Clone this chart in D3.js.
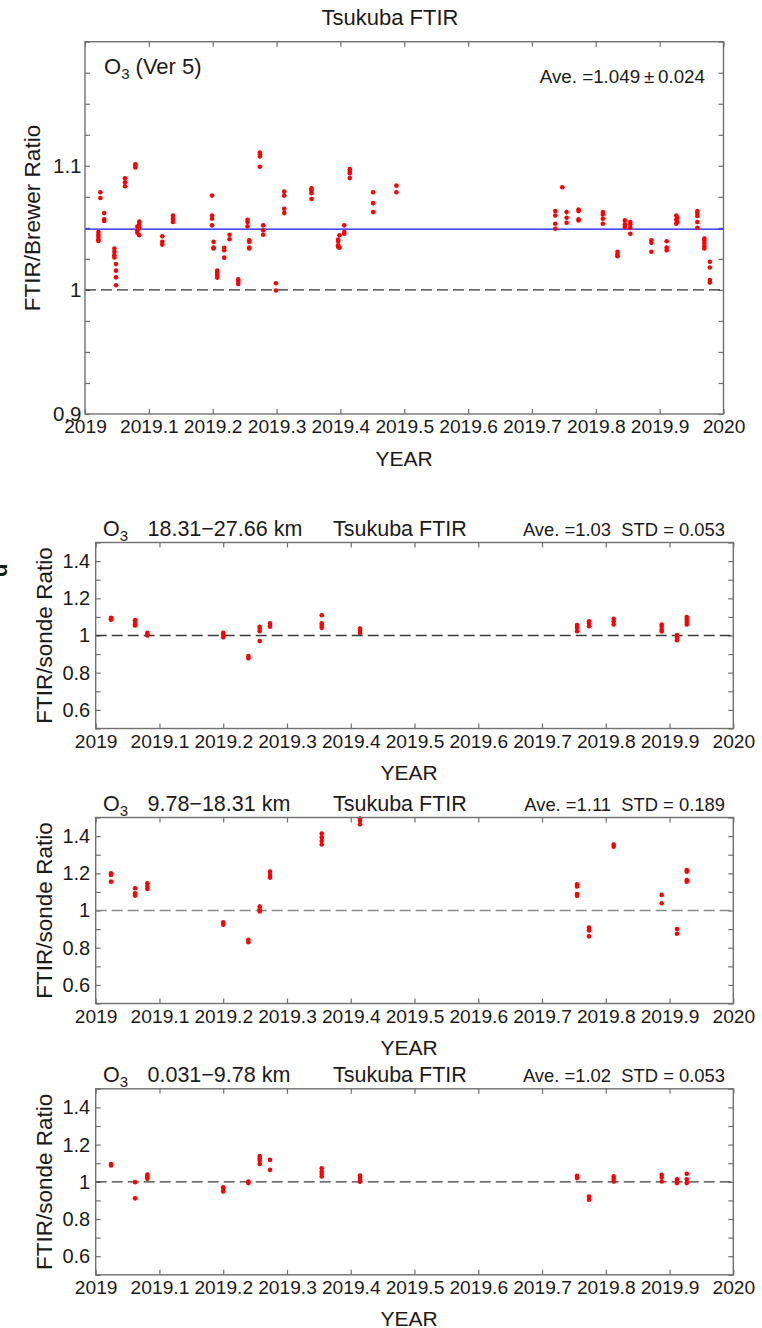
<!DOCTYPE html>
<html>
<head>
<meta charset="utf-8">
<script src="https://cdn.jsdelivr.net/npm/d3@7"></script>
<style>
  body { margin: 0; background: #fff; }
  svg { display: block; }
  text { font-family: "Liberation Sans", Arial, sans-serif; fill: #1a1a1a; }
</style>
</head>
<body>
<svg id="chart" width="762" height="1328"></svg>
<script>
// ---- FTIR / Brewer total-column ratio (2019) ----
const brewerDates = [
  2019.021, 2019.024, 2019.030, 2019.046, 2019.0485, 2019.0626, 2019.0788, 2019.082, 2019.085,
  2019.121, 2019.1377, 2019.199, 2019.2013, 2019.207, 2019.218, 2019.2264, 2019.240,
  2019.2546, 2019.2572, 2019.2739, 2019.279, 2019.299, 2019.312, 2019.3547, 2019.3965,
  2019.3985, 2019.406, 2019.4147, 2019.4512, 2019.4877,
  2019.7365, 2019.7475, 2019.7543, 2019.773, 2019.811, 2019.834, 2019.8455, 2019.854,
  2019.887, 2019.911, 2019.926, 2019.9275, 2019.959, 2019.970, 2019.9786
];
const brewerRatios = [
  [1.0467, 1.0445, 1.0427, 1.0405, 1.0395],
  [1.0787, 1.0741],
  [1.0619, 1.0568, 1.0555],
  [1.0333, 1.0307, 1.0280, 1.0261],
  [1.0208, 1.0155, 1.0101, 1.0037],
  [1.0900, 1.0867, 1.0835],
  [1.1013, 1.1000, 1.0987],
  [1.0460, 1.0480, 1.0510],
  [1.0440, 1.0500, 1.0530, 1.0550],
  [1.0432, 1.0387, 1.0365],
  [1.0600, 1.0573, 1.0547],
  [1.0760, 1.0600, 1.0573, 1.0520],
  [1.0387, 1.0341, 1.0333],
  [1.0155, 1.0139, 1.0120, 1.0099],
  [1.0340, 1.0320, 1.0260],
  [1.0445, 1.0408],
  [1.0085, 1.0067, 1.0048],
  [1.0565, 1.0547, 1.0512],
  [1.0400, 1.0387, 1.0341, 1.0333],
  [1.1107, 1.1093, 1.1075, 1.0992],
  [1.0520, 1.0480, 1.0445],
  [1.0053, 0.9995],
  [1.0792, 1.0760, 1.0653, 1.0619],
  [1.0819, 1.0800, 1.0779, 1.0733],
  [1.0405, 1.0392, 1.0360, 1.0347],
  [1.0440, 1.0340],
  [1.0520, 1.0467, 1.0453],
  [1.0973, 1.0955, 1.0939, 1.0901],
  [1.0787, 1.0699, 1.0627],
  [1.0840, 1.0787],
  [1.0635, 1.0600, 1.0533, 1.0493],
  [1.0827],
  [1.0627, 1.0581, 1.0541],
  [1.0648, 1.0635, 1.0568, 1.0560],
  [1.0627, 1.0608, 1.0573, 1.0533],
  [1.0307, 1.0288, 1.0272],
  [1.0560, 1.0528, 1.0507],
  [1.0547, 1.0528, 1.0501, 1.0453],
  [1.0400, 1.0379, 1.0307],
  [1.0392, 1.0341, 1.0320],
  [1.0600, 1.0565, 1.0533],
  [1.0581, 1.0547],
  [1.0635, 1.0619, 1.0595, 1.0547, 1.0501],
  [1.0413, 1.0395, 1.0373, 1.0352, 1.0333],
  [1.0227, 1.0181, 1.0080, 1.0059]
];
const brewerMean = 1.049;
const brewerStd = 0.024;

// ---- FTIR / ozonesonde partial-column ratios ----
const sondeDates = [
  2019.024, 2019.0617, 2019.081, 2019.200, 2019.2394, 2019.2572, 2019.2734, 2019.3545,
  2019.4145, 2019.7549, 2019.7737, 2019.8124, 2019.8877, 2019.9117, 2019.927
];
const layerNames = ["18.31\u221227.66 km", "9.78\u221218.31 km", "0.031\u22129.78 km"];
const layerMeans = ["1.03", "1.11", "1.02"];
const layerStds = ["0.053", "0.189", "0.053"];
const layerUpper = [
  [1.095, 1.088, 1.085], [1.0825, 1.072, 1.059, 1.054], [1.014, 1.007, 1.0],
  [1.014, 1.005, 0.991], [0.889, 0.878], [1.047, 1.036, 1.023, 0.970],
  [1.065, 1.054, 1.047], [1.109, 1.065, 1.054, 1.041], [1.038, 1.027, 1.014],
  [1.056, 1.041, 1.023], [1.077, 1.065, 1.050], [1.090, 1.077, 1.059],
  [1.059, 1.047, 1.032, 1.022], [1.002, 0.991, 0.975], [1.099, 1.086, 1.072, 1.059]
];
const layerMiddle = [
  [1.200, 1.191, 1.155], [1.120, 1.093, 1.080], [1.146, 1.132, 1.116],
  [0.936, 0.923], [0.843, 0.829], [1.021, 1.007, 0.995],
  [1.209, 1.191, 1.177], [1.414, 1.393, 1.373, 1.355], [1.495, 1.482, 1.464],
  [1.141, 1.129, 1.089, 1.079], [0.909, 0.893, 0.861], [1.355, 1.343],
  [1.084, 1.039], [0.900, 0.875], [1.218, 1.209, 1.164, 1.155]
];
const layerLower = [
  [1.096, 1.0875], [0.998, 0.911], [1.039, 1.029, 1.016],
  [0.971, 0.961, 0.948], [1.002, 0.993], [1.139, 1.127, 1.113, 1.096],
  [1.118, 1.064], [1.073, 1.055, 1.043, 1.029], [1.034, 1.023, 1.011, 1.000],
  [1.032, 1.020], [0.921, 0.904], [1.029, 1.016, 1.002],
  [1.0375, 1.023, 1.002], [1.014, 1.002, 0.993], [1.043, 1.014, 0.993]
];

const xTicks = d3.range(0, 11).map(i => 2019 + i / 10);
const fmt = d => String(+d.toFixed(2));

const svg = d3.select("#chart");

function flatten(dates, groups) {
  const pts = [];
  dates.forEach((t, i) => groups[i].forEach(v => pts.push([t, v])));
  return pts;
}

function styleAxis(g, size) {
  g.select(".domain").remove();
  g.selectAll("line").attr("stroke", "#707070").attr("stroke-width", 1.2);
  g.selectAll("text").attr("font-size", size).attr("fill", "#1a1a1a")
    .style("font-family", '"Liberation Sans", Arial, sans-serif');
}

function frame(g, x, y) {
  g.append("rect")
    .attr("x", x.range()[0]).attr("y", y.range()[1])
    .attr("width", x.range()[1] - x.range()[0])
    .attr("height", y.range()[0] - y.range()[1])
    .attr("fill", "none").attr("stroke", "#707070").attr("stroke-width", 1.4);
}

function xAxes(g, x, y, labelPad) {
  const [top, bottom] = [y.range()[1], y.range()[0]];
  g.append("g").attr("transform", `translate(0,${bottom})`)
    .call(d3.axisBottom(x).tickValues(xTicks).tickSize(-5).tickPadding(labelPad).tickFormat(fmt))
    .call(a => styleAxis(a, 19.2));
  g.append("g").attr("transform", `translate(0,${top})`)
    .call(d3.axisTop(x).tickValues(xTicks).tickSize(-5).tickFormat(""))
    .call(a => styleAxis(a, 19.2));
}

// ================= Top panel: FTIR / Brewer =================
(function () {
  const x = d3.scaleLinear([2019, 2020], [85, 723.5]);
  const y = d3.scaleLinear([0.9, 1.2], [414, 41.7]);
  const g = svg.append("g");
  const minor = d3.range(0, 13).map(i => +(0.9 + i * 0.025).toFixed(3));

  xAxes(g, x, y, 5.8);
  g.append("g").attr("transform", `translate(${x.range()[0]},0)`)
    .call(d3.axisLeft(y).tickValues(minor).tickSize(-5).tickFormat(""))
    .call(a => styleAxis(a, 20.5));
  g.append("g").attr("transform", `translate(${x.range()[0]},0)`)
    .call(d3.axisLeft(y).tickValues([0.9, 1, 1.1]).tickSize(0).tickPadding(3.5).tickFormat(fmt))
    .call(a => styleAxis(a, 20.5));
  g.append("g").attr("transform", `translate(${x.range()[1]},0)`)
    .call(d3.axisRight(y).tickValues(minor).tickSize(-5).tickFormat(""))
    .call(a => styleAxis(a, 20.5));

  // reference lines
  g.append("line").attr("x1", x(2019)).attr("x2", x(2020)).attr("y1", y(1)).attr("y2", y(1))
    .attr("stroke", "#2e2e2e").attr("stroke-width", 1.3).attr("stroke-dasharray", "11,5");
  g.append("line").attr("x1", x(2019)).attr("x2", x(2020))
    .attr("y1", y(brewerMean)).attr("y2", y(brewerMean))
    .attr("stroke", "#1010ff").attr("stroke-width", 1.3);

  g.append("g").selectAll("circle").data(flatten(brewerDates, brewerRatios)).join("circle")
    .attr("cx", d => x(d[0])).attr("cy", d => y(d[1])).attr("r", 2.3).attr("fill", "#ff0000");

  frame(g, x, y);

  g.append("text").attr("x", 390).attr("y", 25).attr("text-anchor", "middle")
    .attr("font-size", 22).text("Tsukuba FTIR");
  const lab = g.append("text").attr("x", 104).attr("y", 74).attr("font-size", 22);
  lab.append("tspan").text("O");
  lab.append("tspan").attr("dy", 5).attr("font-size", 15).text("3");
  lab.append("tspan").attr("dy", -5).text(" (Ver 5)");
  g.append("text").attr("x", 705).attr("y", 83).attr("text-anchor", "end")
    .attr("font-size", 18.8).text(`Ave. =${brewerMean.toFixed(3)}\u2009\u00b1\u2009${brewerStd.toFixed(3)}`);
  g.append("text").attr("transform", "translate(40,218) rotate(-90)")
    .attr("text-anchor", "middle").attr("font-size", 22.5).text("FTIR/Brewer Ratio");
  g.append("text").attr("x", 404).attr("y", 466).attr("text-anchor", "middle")
    .attr("font-size", 21).text("YEAR");
})();

// ================= Sonde panels =================
const panelTops = [542.5, 817.5, 1088.8];
const panelData = [layerUpper, layerMiddle, layerLower];
const dashColors = ["#3a3a3a", "#8a8a8a", "#3a3a3a"];

panelTops.forEach((top, k) => {
  const x = d3.scaleLinear([2019, 2020], [95.7, 733.3]);
  const y = d3.scaleLinear([0.5, 1.5], [top + 186, top]);
  const g = svg.append("g");
  const yt = d3.range(0, 11).map(i => +(0.5 + i * 0.1).toFixed(1));

  xAxes(g, x, y, 5.8);
  g.append("g").attr("transform", `translate(${x.range()[0]},0)`)
    .call(d3.axisLeft(y).tickValues(yt).tickSize(-5).tickFormat(""))
    .call(a => styleAxis(a, 20));
  g.append("g").attr("transform", `translate(${x.range()[0]},0)`)
    .call(d3.axisLeft(y).tickValues([0.6, 0.8, 1, 1.2, 1.4]).tickSize(0).tickPadding(5.5).tickFormat(fmt))
    .call(a => styleAxis(a, 20));
  g.append("g").attr("transform", `translate(${x.range()[1]},0)`)
    .call(d3.axisRight(y).tickValues(yt).tickSize(-5).tickFormat(""))
    .call(a => styleAxis(a, 20));

  g.append("line").attr("x1", x(2019)).attr("x2", x(2020)).attr("y1", y(1)).attr("y2", y(1))
    .attr("stroke", dashColors[k]).attr("stroke-width", 1.3).attr("stroke-dasharray", "11,5");

  g.append("g").selectAll("circle").data(flatten(sondeDates, panelData[k])).join("circle")
    .attr("cx", d => x(d[0])).attr("cy", d => y(d[1])).attr("r", 2.3).attr("fill", "#ff0000");

  frame(g, x, y);

  const hy = top - 6.5;
  const o3 = g.append("text").attr("x", 103).attr("y", hy).attr("font-size", 21.5);
  o3.append("tspan").text("O");
  o3.append("tspan").attr("dy", 5).attr("font-size", 15).text("3");
  g.append("text").attr("x", 147.5).attr("y", hy).attr("font-size", 21.5).text(layerNames[k]);
  g.append("text").attr("x", 333).attr("y", hy).attr("font-size", 21.5).text("Tsukuba FTIR");
  g.append("text").attr("x", 725).attr("y", hy).attr("text-anchor", "end").attr("font-size", 18.4)
    .style("white-space", "pre")
    .text(`Ave. =${layerMeans[k]}  STD = ${layerStds[k]}`);
  g.append("text").attr("transform", `translate(51.5,${top + 93}) rotate(-90)`)
    .attr("text-anchor", "middle").attr("font-size", 22.5).text("FTIR/sonde Ratio");
  g.append("text").attr("x", 409).attr("y", top + 186 + 51.5).attr("text-anchor", "middle")
    .attr("font-size", 21).text("YEAR");
});

// clipped letter at the left margin
svg.append("text").attr("transform", "translate(7,577) rotate(-90)")
  .attr("font-size", 22).attr("font-weight", "bold").text("d");
</script>
</body>
</html>
